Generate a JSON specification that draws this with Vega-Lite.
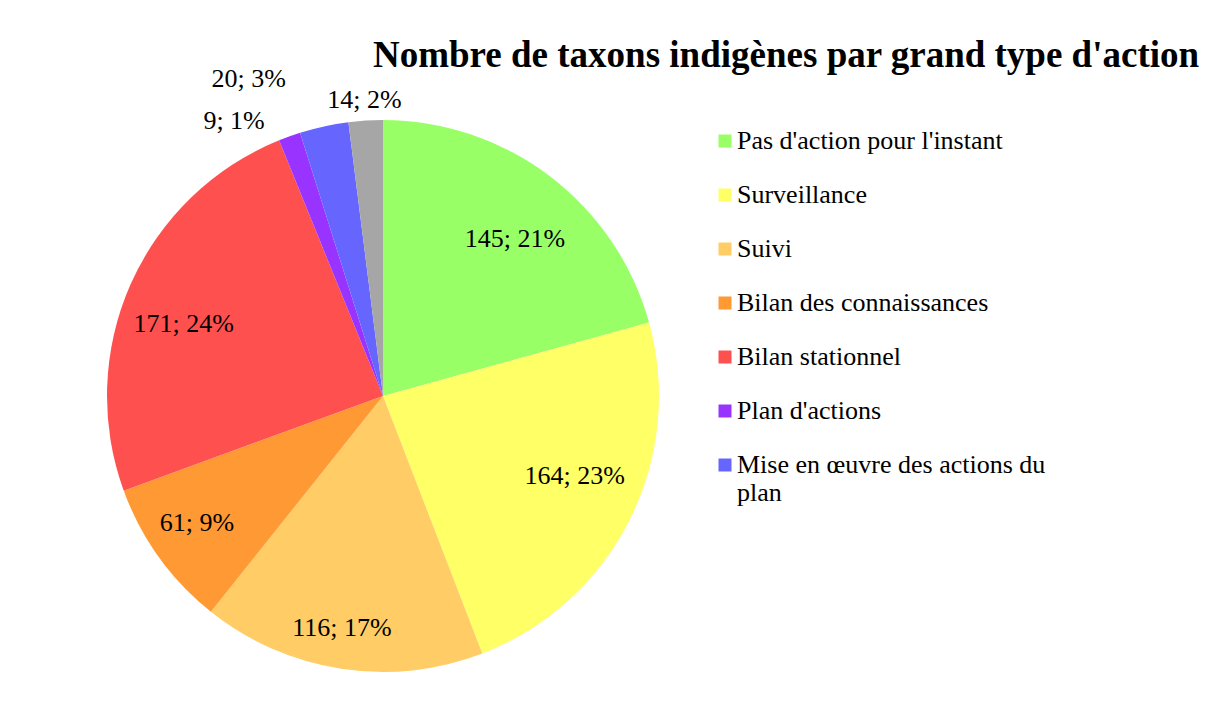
{
  "$schema": "https://vega.github.io/schema/vega-lite/v6.json",
  "width": 552,
  "height": 552,
  "autosize": "none",
  "padding": {"left": 107, "top": 120, "right": 546, "bottom": 47},
  "background": "white",
  "config": {"view": {"stroke": null}, "font": "Liberation Serif"},
  "title": {
    "text": "Nombre de taxons indigènes par grand type d'action",
    "font": "Liberation Serif",
    "fontSize": 37,
    "fontWeight": "bold",
    "color": "black",
    "anchor": "start",
    "frame": "group",
    "dx": 266,
    "offset": -44,
    "baseline": "alphabetic"
  },
  "data": {
    "values": [
      {"ordre": 1, "type": "Pas d'action pour l'instant", "taxons": 145, "pct": "21%"},
      {"ordre": 2, "type": "Surveillance", "taxons": 164, "pct": "23%"},
      {"ordre": 3, "type": "Suivi", "taxons": 116, "pct": "17%"},
      {"ordre": 4, "type": "Bilan des connaissances", "taxons": 61, "pct": "9%"},
      {"ordre": 5, "type": "Bilan stationnel", "taxons": 171, "pct": "24%"},
      {"ordre": 6, "type": "Plan d'actions", "taxons": 9, "pct": "1%"},
      {"ordre": 7, "type": "Mise en œuvre des actions du plan", "taxons": 20, "pct": "3%"},
      {"ordre": 8, "type": "Autre", "taxons": 14, "pct": "2%"}
    ]
  },
  "transform": [
    {"calculate": "datum.taxons + '; ' + datum.pct", "as": "etiquette"}
  ],
  "encoding": {
    "theta": {"field": "taxons", "type": "quantitative", "stack": true},
    "order": {"field": "ordre", "type": "quantitative"},
    "color": {
      "field": "type",
      "type": "nominal",
      "sort": null,
      "scale": {
        "domain": ["Pas d'action pour l'instant", "Surveillance", "Suivi", "Bilan des connaissances", "Bilan stationnel", "Plan d'actions", "Mise en œuvre des actions du plan", "Autre"],
        "range": ["#99FF66", "#FFFF66", "#FFCC66", "#FF9933", "#FF5050", "#9933FF", "#6666FF", "#A6A6A6"]
      },
      "legend": {
        "title": null,
        "orient": "none",
        "legendX": 605,
        "legendY": 8,
        "values": ["Pas d'action pour l'instant", "Surveillance", "Suivi", "Bilan des connaissances", "Bilan stationnel", "Plan d'actions", "Mise en œuvre des actions du plan"],
        "symbolType": "square",
        "symbolSize": 169,
        "symbolStrokeWidth": 0,
        "symbolOpacity": 1,
        "labelFont": "Liberation Serif",
        "labelFontSize": 26,
        "labelColor": "black",
        "labelOffset": -1,
        "labelLimit": 450,
        "rowPadding": 28,
        "padding": 0,
        "labelExpr": "datum.label == 'Mise en œuvre des actions du plan' ? ['Mise en œuvre des actions du', 'plan'] : datum.label"
      }
    }
  },
  "layer": [
    {"mark": {"type": "arc", "outerRadius": 276}},
    {
      "mark": {"type": "text", "radius": 218, "font": "Liberation Serif", "fontSize": 26, "color": "black", "dy": 16},
      "encoding": {"text": {"condition": {"test": "datum.ordre == 1 || datum.ordre == 5", "field": "etiquette"}, "value": ""}, "color": {"value": "black"}}
    },
    {
      "mark": {"type": "text", "radius": 218, "font": "Liberation Serif", "fontSize": 26, "color": "black", "dy": -18, "dx": -3},
      "encoding": {"text": {"condition": {"test": "datum.ordre == 2", "field": "etiquette"}, "value": ""}, "color": {"value": "black"}}
    },
    {
      "mark": {"type": "text", "radius": 218, "font": "Liberation Serif", "fontSize": 26, "color": "black", "dy": 17, "dx": -8},
      "encoding": {"text": {"condition": {"test": "datum.ordre == 3", "field": "etiquette"}, "value": ""}, "color": {"value": "black"}}
    },
    {
      "mark": {"type": "text", "radius": 218, "font": "Liberation Serif", "fontSize": 26, "color": "black", "dx": -9},
      "encoding": {"text": {"condition": {"test": "datum.ordre == 4", "field": "etiquette"}, "value": ""}, "color": {"value": "black"}}
    },
    {
      "mark": {"type": "text", "radius": 292, "font": "Liberation Serif", "fontSize": 26, "color": "black", "dx": -50},
      "encoding": {"text": {"condition": {"test": "datum.ordre == 6", "field": "etiquette"}, "value": ""}, "color": {"value": "black"}}
    },
    {
      "mark": {"type": "text", "radius": 324, "font": "Liberation Serif", "fontSize": 26, "color": "black", "dx": -65},
      "encoding": {"text": {"condition": {"test": "datum.ordre == 7", "field": "etiquette"}, "value": ""}, "color": {"value": "black"}}
    },
    {
      "mark": {"type": "text", "radius": 297, "font": "Liberation Serif", "fontSize": 26, "color": "black"},
      "encoding": {"text": {"condition": {"test": "datum.ordre == 8", "field": "etiquette"}, "value": ""}, "color": {"value": "black"}}
    }
  ]
}
